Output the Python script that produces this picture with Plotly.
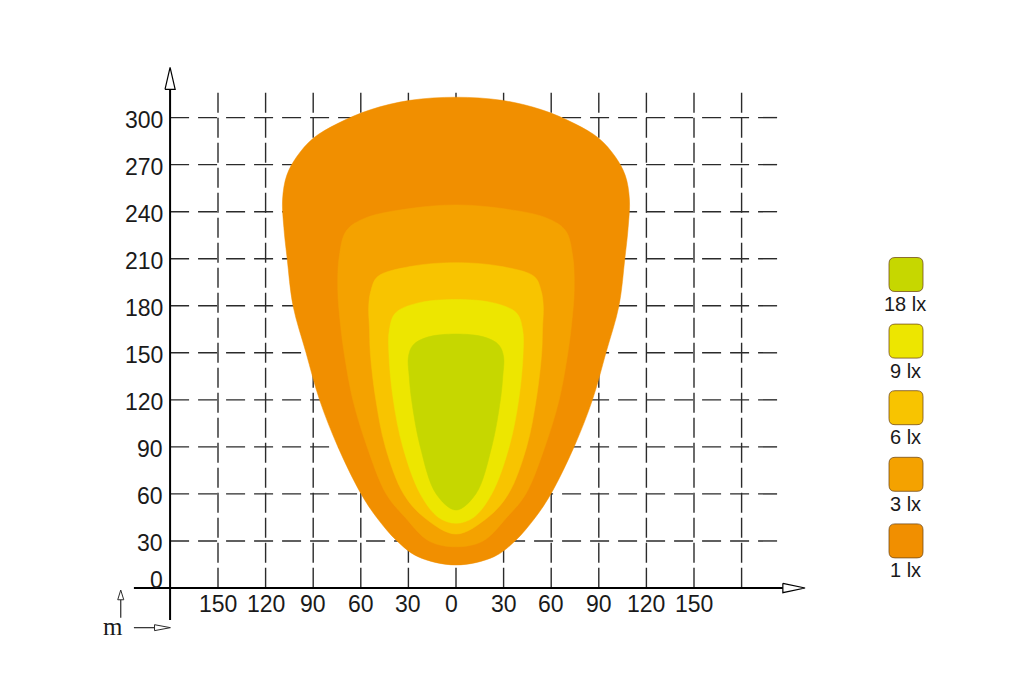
import plotly.graph_objects as go

# Axis ticks (metres) and light-level legend.
x_ticks = [-150, -120, -90, -60, -30, 0, 30, 60, 90, 120, 150]
x_grid = x_ticks + [180]
y_ticks = [0, 30, 60, 90, 120, 150, 180, 210, 240, 270, 300]

levels = ["18 lx", "9 lx", "6 lx", "3 lx", "1 lx"]
level_colors = ["#c6d700", "#ede600", "#f8c400", "#f4a200", "#f18f00"]

# Half-width profiles of each isolux contour, top -> bottom (metres).
lx1_y = [313, 311, 305, 296, 286.8, 275, 263, 248, 230, 210, 180, 150, 120, 90, 60, 45, 30, 20, 14.7]
lx1_w = [0, 29, 54, 75, 90, 100.4, 106.7, 109.3, 108.5, 106.4, 102.7, 94.5, 86, 74.4, 59.8, 50, 37.2, 24, 0]

lx3_y = [244.3, 242, 236, 228, 212, 190, 170, 150, 120, 90, 60, 45, 30, 26.3]
lx3_w = [0, 29, 57, 69, 73.5, 74.5, 73, 70.5, 65, 56, 44, 32, 17, 0]

lx6_y = [207.5, 205, 198.5, 190, 180, 165, 150, 120, 90, 60, 45, 34.4]
lx6_w = [0, 29, 49.5, 53.5, 55, 54.5, 54, 50.5, 44.5, 33, 20, 0]

lx9_y = [184, 181.5, 175.2, 164.5, 150, 120, 90, 60, 45, 41.3]
lx9_w = [0, 25, 38.3, 42, 42.3, 39.5, 33.5, 22.5, 11, 0]

lx18_y = [162, 160, 155, 147.5, 135, 120, 90, 60, 49.7]
lx18_w = [0, 18, 27, 30, 29.5, 28, 22.5, 12.5, 0]

contours = [
    ("1 lx", lx1_y, lx1_w),
    ("3 lx", lx3_y, lx3_w),
    ("6 lx", lx6_y, lx6_w),
    ("9 lx", lx9_y, lx9_w),
    ("18 lx", lx18_y, lx18_w),
]

# Pixel mapping (page is 1024 x 677, the figure div sits 8px in from the corner).
PAGE_OFF = 8
W, H = 1024 - PAGE_OFF, 677 - PAGE_OFF
X0_PX, Y0_PX = 456 - PAGE_OFF, 588 - PAGE_OFF
SX, SY = 47.6 / 30, 47.04 / 30
x_range = [(0 - X0_PX) / SX, (W - X0_PX) / SX]
y_range = [(Y0_PX - H) / SY, Y0_PX / SY]

AXIS_X = -180.2
GRID_TOP = 315.8
GRID_RIGHT = 204.8
INK = "#2b2b2b"

fig = go.Figure()

# Dashed grid
vx, vy = [], []
for gx in x_grid:
    vx += [gx, gx, None]
    vy += [GRID_TOP, 0, None]
fig.add_trace(go.Scatter(x=vx, y=vy, mode="lines", hoverinfo="skip",
                         line=dict(color=INK, width=1.4, dash="20px,5px")))
hx, hy = [], []
for gy in y_ticks[1:]:
    hx += [AXIS_X, GRID_RIGHT, None]
    hy += [gy, gy, None]
fig.add_trace(go.Scatter(x=hx, y=hy, mode="lines", hoverinfo="skip",
                         line=dict(color=INK, width=1.4, dash="19px,9px")))

# Isolux areas, largest first
color_of = dict(zip(levels, level_colors))
for name, ys, ws in contours:
    xs = ws + [-v for v in ws[-2::-1]]
    yy = ys + ys[-2::-1]
    fig.add_trace(go.Scatter(x=xs, y=yy, mode="lines", fill="toself", name=name,
                             fillcolor=color_of[name], hoverinfo="name",
                             line=dict(width=0.5, shape="spline", smoothing=1.0,
                                       simplify=False, color=color_of[name])))

# Axes with open arrowheads
fig.add_trace(go.Scatter(x=[-203, 206], y=[0, 0], mode="lines", hoverinfo="skip",
                         line=dict(color="black", width=2)))
fig.add_trace(go.Scatter(x=[AXIS_X, AXIS_X], y=[-20.4, 318], mode="lines", hoverinfo="skip",
                         line=dict(color="black", width=2)))
fig.add_trace(go.Scatter(x=[206, 220, 206, 206], y=[3, 0, -3, 3], mode="lines", fill="toself",
                         fillcolor="white", hoverinfo="skip", line=dict(color="black", width=1.2)))
fig.add_trace(go.Scatter(x=[AXIS_X - 3.2, AXIS_X, AXIS_X + 3.2, AXIS_X - 3.2], y=[318, 332, 318, 318],
                         mode="lines", fill="toself", fillcolor="white", hoverinfo="skip",
                         line=dict(color="black", width=1.2)))

# small "m" unit arrows
fig.add_trace(go.Scatter(x=[-211.3, -211.3], y=[-19, -7.5], mode="lines", hoverinfo="skip",
                         line=dict(color=INK, width=1.2)))
fig.add_trace(go.Scatter(x=[-213.2, -211.3, -209.4, -213.2], y=[-7.5, -1.3, -7.5, -7.5],
                         mode="lines", fill="toself", fillcolor="white", hoverinfo="skip",
                         line=dict(color=INK, width=1)))
fig.add_trace(go.Scatter(x=[-203, -190], y=[-25.3, -25.3], mode="lines", hoverinfo="skip",
                         line=dict(color=INK, width=1.2)))
fig.add_trace(go.Scatter(x=[-190, -180, -190, -190], y=[-23.4, -25.3, -27.2, -23.4],
                         mode="lines", fill="toself", fillcolor="white", hoverinfo="skip",
                         line=dict(color=INK, width=1)))

annotations = []
tick_font = dict(family="Liberation Sans", size=23, color="#1a1a1a")
for t in x_ticks:
    annotations.append(dict(x=t, y=0, xref="x", yref="y", text=str(abs(t)), showarrow=False,
                            xanchor="center", yanchor="middle", yshift=-16,
                            xshift=-5 if t == 0 else 0, font=tick_font))
for t in y_ticks:
    annotations.append(dict(x=AXIS_X, y=t, xref="x", yref="y", text=str(t), showarrow=False,
                            xanchor="right", yanchor="middle", xshift=-5,
                            yshift=8 if t == 0 else -2, font=tick_font))
annotations.append(dict(x=-216, y=-24.5, xref="x", yref="y", text="m", showarrow=False,
                        xanchor="center", yanchor="middle",
                        font=dict(family="Liberation Serif", size=25, color="#1a1a1a")))

# Legend: rounded swatches with labels beneath (positions in page pixels)
shapes = []
LEG_X, LEG_Y0, LEG_STEP = 906 - PAGE_OFF, 274.5 - PAGE_OFF, 66.6
SW, R = 34, 6


def px(x):
    return x / W


def py(y):
    return 1 - y / H


for i, (lab, col) in enumerate(zip(levels, level_colors)):
    cy = LEG_Y0 + i * LEG_STEP
    x0, x1 = LEG_X - SW / 2, LEG_X + SW / 2
    y0, y1 = cy - SW / 2, cy + SW / 2
    path = (f"M {px(x0 + R)},{py(y0)} L {px(x1 - R)},{py(y0)} Q {px(x1)},{py(y0)} {px(x1)},{py(y0 + R)} "
            f"L {px(x1)},{py(y1 - R)} Q {px(x1)},{py(y1)} {px(x1 - R)},{py(y1)} "
            f"L {px(x0 + R)},{py(y1)} Q {px(x0)},{py(y1)} {px(x0)},{py(y1 - R)} "
            f"L {px(x0)},{py(y0 + R)} Q {px(x0)},{py(y0)} {px(x0 + R)},{py(y0)} Z")
    shapes.append(dict(type="path", path=path, xref="paper", yref="paper", fillcolor=col,
                       line=dict(color="rgba(110,70,20,0.75)", width=1)))
    annotations.append(dict(x=px(LEG_X - 1), y=py(cy + 29.5), xref="paper", yref="paper", text=lab,
                            showarrow=False, xanchor="center", yanchor="middle",
                            font=dict(family="Liberation Sans", size=20, color="#1a1a1a")))

fig.update_layout(
    width=W, height=H,
    margin=dict(l=0, r=0, t=0, b=0, pad=0),
    paper_bgcolor="white", plot_bgcolor="white",
    showlegend=False,
    xaxis=dict(range=x_range, visible=False, fixedrange=True),
    yaxis=dict(range=y_range, visible=False, fixedrange=True),
    annotations=annotations,
    shapes=shapes,
)

fig.write_html("out.html")
